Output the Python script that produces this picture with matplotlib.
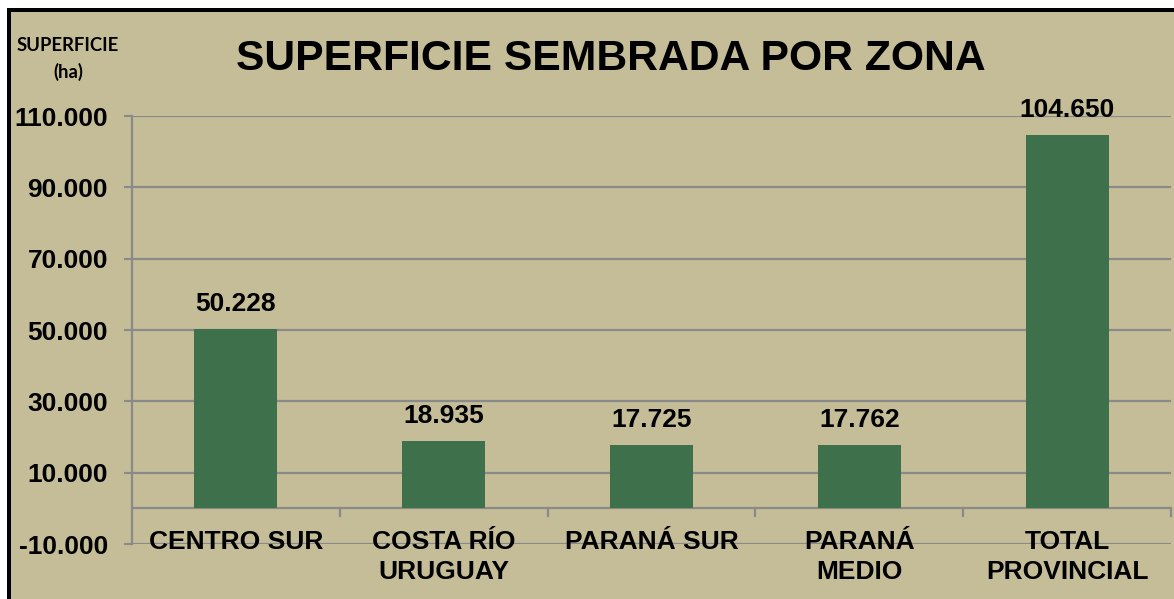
import matplotlib
matplotlib.use("Agg")
import matplotlib.pyplot as plt
from matplotlib.patches import Rectangle
from matplotlib.ticker import FixedLocator, FuncFormatter

categories = ["CENTRO SUR", "COSTA RÍO\nURUGUAY", "PARANÁ SUR", "PARANÁ\nMEDIO", "TOTAL\nPROVINCIAL"]
values = [50228, 18935, 17725, 17762, 104650]
yticks = [-10000, 10000, 30000, 50000, 70000, 90000, 110000]
title = "SUPERFICIE SEMBRADA POR ZONA"
ylabel = "SUPERFICIE\n(ha)"

BG = "#C4BD97"
BAR = "#3D704B"
GRID = "#8A8A8A"
W, H = 1174, 599

plt.rcParams['font.family'] = ['Liberation Sans', 'DejaVu Sans']
fig = plt.figure(figsize=(W / 100, H / 100), dpi=100, facecolor="white")

# chart-area frame (black border on left and top)
fig.patches.append(Rectangle((8.5 / W, -0.1), 1.2, 1 - 9.5 / H + 0.1, transform=fig.transFigure,
                             facecolor=BG, edgecolor="black", linewidth=4 * 0.72, zorder=-10))

ax = fig.add_axes([132 / W, 1 - 544 / H, (1171 - 132) / W, (544 - 116) / H])
ax.set_facecolor("none")

x = list(range(len(categories)))
ax.bar(x, values, width=0.4, color=BAR, zorder=3)
ax.set_xlim(-0.5, len(categories) - 0.5)
ax.set_ylim(-10000, 110000)

fmt = lambda v, p=None: f"{v:,.0f}".replace(",", ".")
ax.yaxis.set_major_locator(FixedLocator(yticks))
ax.yaxis.set_major_formatter(FuncFormatter(fmt))
ax.tick_params(axis="y", length=8 * 0.72, width=1.5, color=GRID, pad=11.5, labelsize=19)
for lab in ax.get_yticklabels():
    lab.set_fontweight("bold")
ax.set_xticks([])
ax.grid(axis="y", color=GRID, linewidth=1.6, zorder=1)
for s in ["top", "right", "bottom"]:
    ax.spines[s].set_visible(False)
ax.spines["left"].set_color(GRID)
ax.spines["left"].set_linewidth(1.6)

# category axis at zero with boundary tick marks
ax.axhline(0, color=GRID, linewidth=1.6, zorder=2)
tick_len = 8 * 20000 / 71.3
for b in [i + 0.5 for i in x]:
    ax.plot([b, b], [0, -tick_len], color=GRID, linewidth=1.6, zorder=2, clip_on=False)

for i, (c, v) in enumerate(zip(categories, values)):
    ax.annotate(fmt(v), xy=(i, v), xytext=(0, 13), textcoords="offset points",
                ha="center", va="baseline", fontsize=19, fontweight="bold", zorder=4)
    for k, line in enumerate(c.split("\n")):
        ax.annotate(line, xy=(i, 0), xytext=(0, -29.5 - 21.6 * k), textcoords="offset points",
                    ha="center", va="baseline", fontsize=19, fontweight="bold", zorder=4)

fig.text(611 / W, 1 - 59 / H, title, ha="center", va="center", fontsize=30.7, fontweight="bold")
fig.text(68 / W, 1 - 59 / H, ylabel, ha="center", va="center", fontsize=13.3, fontweight="bold",
         family=["Lato", "DejaVu Sans"], linespacing=1.65)

fig.savefig("out.png", dpi=100, facecolor="white")
